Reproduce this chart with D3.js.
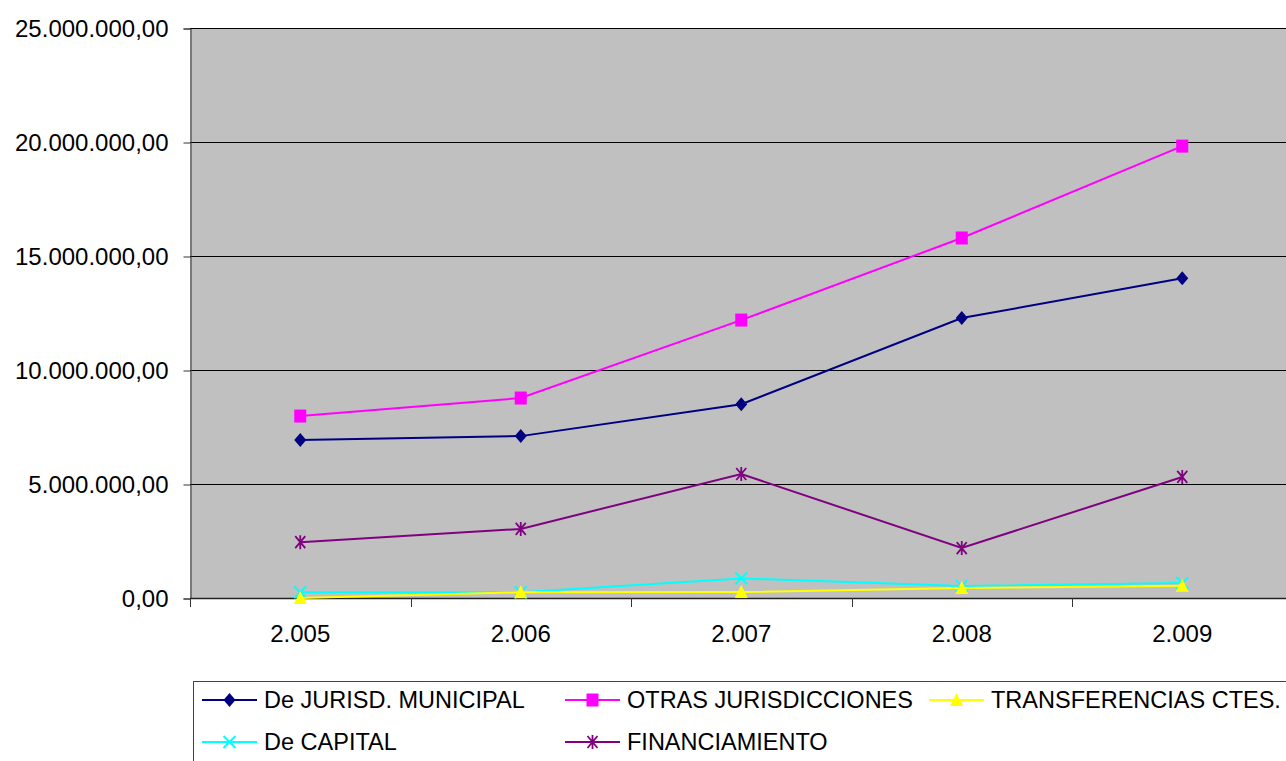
<!DOCTYPE html>
<html>
<head>
<meta charset="utf-8">
<script src="https://cdn.jsdelivr.net/npm/d3@7"></script>
<style>
  html, body { margin: 0; padding: 0; background: #fff; }
  svg { display: block; }
  text { font-family: "Liberation Sans", Arial, sans-serif; fill: #000; }
</style>
</head>
<body>
<svg id="chart" width="1286" height="761"></svg>
<script>
// ---- data ----
const years = [2005, 2006, 2007, 2008, 2009];
const yTicks = [0, 5000000, 10000000, 15000000, 20000000, 25000000];
const seriesNames = ["De JURISD. MUNICIPAL", "OTRAS JURISDICCIONES", "TRANSFERENCIAS CTES.", "De CAPITAL", "FINANCIAMIENTO"];
const jurisdMunicipal = [6930000, 7100000, 8500000, 12280000, 14020000];
const otrasJurisdicciones = [7980000, 8770000, 12190000, 15790000, 19820000];
const transferenciasCtes = [0, 250000, 260000, 440000, 540000];
const deCapital = [250000, 250000, 860000, 530000, 660000];
const financiamiento = [2450000, 3030000, 5440000, 2190000, 5310000];

const seriesValues = [jurisdMunicipal, otrasJurisdicciones, transferenciasCtes, deCapital, financiamiento];
const seriesColors = ["#000080", "#FF00FF", "#FFFF00", "#00FFFF", "#800080"];
const seriesMarkers = ["diamond", "square", "triangle", "x", "asterisk"];

const locale = d3.formatLocale({decimal: ",", thousands: ".", grouping: [3], currency: ["", ""]});
const fmtY = locale.format(",.2f");
const fmtX = locale.format(",");

const svg = d3.select("#chart");
const plotLeft = 190, plotTop = 28, plotBottom = 598, band = 220.5;
const x = d3.scaleBand().domain(years).range([plotLeft, plotLeft + band * years.length]).padding(0);
const y = d3.scaleLinear().domain([0, 25000000]).range([plotBottom, plotTop]);
const cx = d => x(d) + x.bandwidth() / 2;

// plot area
svg.append("rect").attr("x", plotLeft).attr("y", plotTop)
  .attr("width", band * years.length).attr("height", plotBottom - plotTop)
  .attr("fill", "#C0C0C0");

// gridlines
svg.append("g").selectAll("line").data(yTicks.filter(t => t > 0)).join("line")
  .attr("x1", plotLeft).attr("x2", plotLeft + band * years.length)
  .attr("y1", d => Math.round(y(d)) + 0.5).attr("y2", d => Math.round(y(d)) + 0.5)
  .attr("stroke", "#000").attr("stroke-width", 1);

// y axis
const yAxis = d3.axisLeft(y).tickValues(yTicks).tickFormat(fmtY).tickSize(7).tickPadding(15);
const gy = svg.append("g").attr("transform", `translate(${plotLeft + 0.5},0.5)`).call(yAxis);
gy.select(".domain").attr("stroke", "#333");
gy.selectAll(".tick line").attr("stroke", "#333");
gy.selectAll("text").attr("font-size", 24).attr("font-family", "Liberation Sans, Arial, sans-serif").attr("fill", "#000");

// x axis line + boundary ticks
svg.append("line").attr("x1", plotLeft).attr("x2", plotLeft + band * years.length)
  .attr("y1", plotBottom + 0.5).attr("y2", plotBottom + 0.5).attr("stroke", "#222").attr("stroke-width", 1.5);
const bounds = years.map(d => x(d)).concat([x(years[years.length - 1]) + x.bandwidth()]);
svg.append("g").selectAll("line").data(bounds).join("line")
  .attr("x1", d => Math.round(d) + 0.5).attr("x2", d => Math.round(d) + 0.5)
  .attr("y1", plotBottom).attr("y2", plotBottom + 9).attr("stroke", "#333");
svg.append("g").selectAll("text").data(years).join("text")
  .attr("x", d => cx(d)).attr("y", 642).attr("text-anchor", "middle")
  .attr("font-size", 24).text(d => fmtX(d));

// markers
function drawMarker(g, type, color, px, py) {
  if (type === "diamond") {
    g.append("path").attr("d", `M${px},${py - 7}L${px + 6},${py}L${px},${py + 7}L${px - 6},${py}Z`).attr("fill", color);
  } else if (type === "square") {
    g.append("rect").attr("x", px - 6).attr("y", py - 6.5).attr("width", 12).attr("height", 13).attr("fill", color);
  } else if (type === "triangle") {
    g.append("path").attr("d", `M${px},${py - 7}L${px + 6.5},${py + 6}L${px - 6.5},${py + 6}Z`).attr("fill", color);
  } else if (type === "x") {
    g.append("path").attr("d", `M${px - 6},${py - 6}L${px + 6},${py + 6}M${px + 6},${py - 6}L${px - 6},${py + 6}`)
      .attr("stroke", color).attr("stroke-width", 2).attr("fill", "none");
  } else if (type === "asterisk") {
    g.append("path").attr("d", `M${px - 5},${py - 6}L${px + 5},${py + 6}M${px + 5},${py - 6}L${px - 5},${py + 6}M${px},${py - 7}L${px},${py + 7}`)
      .attr("stroke", color).attr("stroke-width", 1.8).attr("fill", "none");
  }
}

// series (draw in reverse so first series on top)
const line = d3.line().x((d, i) => cx(years[i])).y(d => y(d));
const order = [4, 3, 2, 1, 0];
order.forEach(si => {
  const g = svg.append("g");
  g.append("path").attr("d", line(seriesValues[si])).attr("fill", "none")
    .attr("stroke", seriesColors[si]).attr("stroke-width", 2);
  seriesValues[si].forEach((v, i) => drawMarker(g, seriesMarkers[si], seriesColors[si], cx(years[i]), y(v)));
});

// legend
svg.append("rect").attr("x", 193.5).attr("y", 681.5).attr("width", 1200).attr("height", 200)
  .attr("fill", "#fff").attr("stroke", "#444").attr("stroke-width", 1);
const legPos = [[202, 700], [565, 700], [929, 700], [202, 742], [565, 742]];
seriesNames.forEach((name, i) => {
  const [lx, ly] = legPos[i];
  const g = svg.append("g");
  g.append("line").attr("x1", lx).attr("x2", lx + 55).attr("y1", ly).attr("y2", ly)
    .attr("stroke", seriesColors[i]).attr("stroke-width", 2);
  drawMarker(g, seriesMarkers[i], seriesColors[i], lx + 27.5, ly);
  g.append("text").attr("x", lx + 62).attr("y", ly + 8).attr("font-size", 23.5).text(name);
});
</script>
</body>
</html>
